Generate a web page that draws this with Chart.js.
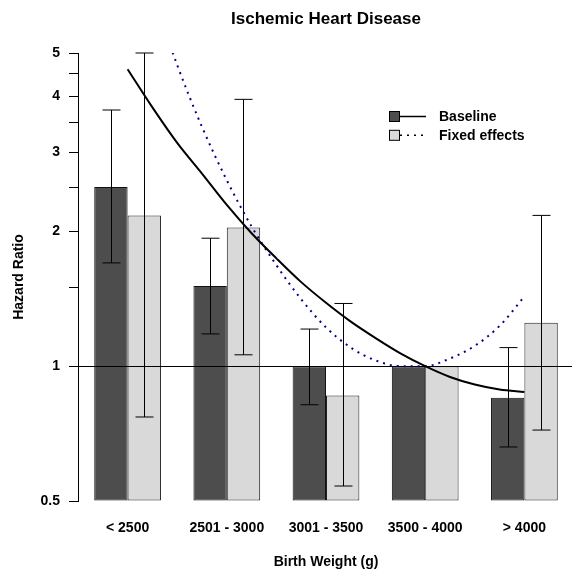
<!DOCTYPE html>
<html>
<head>
<meta charset="utf-8">
<script src="https://cdn.jsdelivr.net/npm/chart.js@4.4.1/dist/chart.umd.min.js"></script>
<style>
    html, body { margin: 0; padding: 0; background: #fff; overflow: hidden; }
    #wrap { width: 574px; height: 574px; }
</style>
</head>
<body>
<div id="wrap"><canvas id="hrChart"></canvas></div>
<script>
/* ---------- data ---------- */
const categories = ['< 2500', '2501 - 3000', '3001 - 3500', '3500 - 4000', '> 4000'];

const baselineHR = [2.51, 1.51, 1.00, 1.00, 0.85];
const baselineLo = [1.70, 1.18, 0.82, null, 0.66];
const baselineHi = [3.73, 1.93, 1.21, null, 1.10];

const fixedHR = [2.17, 2.04, 0.86, 1.00, 1.25];
const fixedLo = [0.77, 1.06, 0.54, null, 0.72];
const fixedHi = [5.00, 3.94, 1.38, null, 2.17];

// fitted curves, x in category units (0.5 = centre of first group)
const curveX = [0.5, 0.75, 1.0, 1.25, 1.5, 1.75, 2.0, 2.25, 2.5, 2.75, 3.0, 3.25, 3.5, 3.75, 4.0, 4.25, 4.5];
const baselineCurve = [4.60, 3.78, 3.15, 2.69, 2.29, 1.98, 1.74, 1.54, 1.385, 1.257, 1.155, 1.068, 1.00, 0.946, 0.910, 0.887, 0.876];
const fixedCurve = [10.3, 6.8, 4.70, 3.42, 2.60, 2.05, 1.68, 1.41, 1.22, 1.10, 1.03, 1.00, 1.00, 1.04, 1.11, 1.23, 1.43];

const yTicks = [0.5, 1, 1.5, 2, 2.5, 3, 3.5, 4, 4.5, 5];
const yLabels = [0.5, 1, 2, 3, 4, 5];
const refLine = 1;

const DARK = '#4d4d4d';
const LIGHT = '#d9d9d9';

Chart.defaults.font.family = "'Liberation Sans', Arial, sans-serif";
Chart.defaults.color = '#000';

// one shared linear x axis: category i sits at i + 0.5
const groupX = categories.map((_, i) => i + 0.5);
const toPoints = (xs, ys) => xs.map((x, i) => ({ x, y: ys[i] }));

/* ---------- reference line + error bars, drawn between bars and curves ---------- */
let underlayDone = false;
const underlay = {
    id: 'underlay',
    beforeDatasetsDraw() { underlayDone = false; },
    beforeDatasetDraw(chart, args) {
        if (underlayDone || args.meta.type !== 'line') return;
        underlayDone = true;
        const { ctx, chartArea } = chart;
        const y = chart.scales.y;
        ctx.save();
        ctx.strokeStyle = '#000';
        ctx.lineWidth = 1;

        const yr = Math.round(y.getPixelForValue(refLine)) + 0.5;
        ctx.beginPath();
        ctx.moveTo(chartArea.left, yr);
        ctx.lineTo(chartArea.right, yr);
        ctx.stroke();

        chart.data.datasets.forEach((ds, i) => {
            if (!ds.errLo) return;
            chart.getDatasetMeta(i).data.forEach((bar, j) => {
                if (ds.errLo[j] == null) return;
                const x = Math.round(bar.x) + 0.5;
                const lo = y.getPixelForValue(ds.errLo[j]);
                const hi = y.getPixelForValue(ds.errHi[j]);
                ctx.beginPath();
                ctx.moveTo(x, lo); ctx.lineTo(x, hi);
                ctx.moveTo(x - 9, lo); ctx.lineTo(x + 9, lo);
                ctx.moveTo(x - 9, hi); ctx.lineTo(x + 9, hi);
                ctx.stroke();
            });
        });
        ctx.restore();
    }
};

/* ---------- legend: filled box + line style ---------- */
const keyLegend = {
    id: 'keyLegend',
    afterDraw(chart) {
        const { ctx } = chart;
        const sets = chart.data.datasets;
        const items = [
            { label: sets[0].label, fill: sets[0].backgroundColor, dash: [] },
            { label: sets[1].label, fill: sets[1].backgroundColor, dash: [2, 5] }
        ];
        ctx.save();
        ctx.font = "bold 14px 'Liberation Sans', Arial, sans-serif";
        ctx.textBaseline = 'middle';
        items.forEach((it, k) => {
            const cy = 116.5 + k * 18.8;
            ctx.fillStyle = it.fill;
            ctx.fillRect(389.5, cy - 5, 10, 10);
            ctx.strokeStyle = '#000';
            ctx.lineWidth = 1;
            ctx.setLineDash([]);
            ctx.strokeRect(389.5, cy - 5, 10, 10);
            ctx.lineWidth = 1.5;
            ctx.setLineDash(it.dash);
            ctx.beginPath();
            ctx.moveTo(400, cy);
            ctx.lineTo(426, cy);
            ctx.stroke();
            ctx.fillStyle = '#000';
            ctx.fillText(it.label, 439, cy + 0.5);
        });
        ctx.restore();
    }
};

new Chart(document.getElementById('hrChart'), {
    type: 'bar',
    data: {
        datasets: [
            {
                label: 'Baseline',
                data: toPoints(groupX, baselineHR),
                errLo: baselineLo,
                errHi: baselineHi,
                backgroundColor: DARK,
                borderColor: '#111',
                borderWidth: 1,
                borderSkipped: false,
                base: 0.5,
                order: 3
            },
            {
                label: 'Fixed effects',
                data: toPoints(groupX, fixedHR),
                errLo: fixedLo,
                errHi: fixedHi,
                backgroundColor: LIGHT,
                borderColor: '#222',
                borderWidth: 1,
                borderSkipped: false,
                base: 0.5,
                order: 3
            },
            {
                type: 'line',
                label: 'Baseline fit',
                data: toPoints(curveX, baselineCurve),
                borderColor: '#000',
                borderWidth: 2,
                pointRadius: 0,
                cubicInterpolationMode: 'monotone',
                fill: false,
                order: 1
            },
            {
                type: 'line',
                label: 'Fixed effects fit',
                data: toPoints(curveX, fixedCurve),
                borderColor: '#00008b',
                borderWidth: 2,
                borderDash: [2, 5],
                pointRadius: 0,
                cubicInterpolationMode: 'monotone',
                fill: false,
                order: 2
            }
        ]
    },
    options: {
        responsive: true,
        maintainAspectRatio: false,
        animation: false,
        layout: { padding: 0 },
        datasets: {
            bar: { barPercentage: 1.0, categoryPercentage: 0.6727 }
        },
        plugins: {
            legend: { display: false },
            tooltip: { enabled: false },
            title: {
                display: true,
                text: 'Ischemic Heart Disease',
                fullSize: false,
                color: '#000',
                font: { size: 17, weight: 'bold' },
                padding: { top: 9.3, bottom: 23.3 }
            }
        },
        scales: {
            x: {
                type: 'linear',
                min: 0,
                max: categories.length,
                offset: false,
                afterBuildTicks: (s) => { s.ticks = groupX.map((v) => ({ value: v })); },
                afterFit: (s) => { s.height = 73; },
                grid: { display: false, drawTicks: false },
                border: { display: false },
                ticks: {
                    padding: 19,
                    autoSkip: false,
                    maxRotation: 0,
                    font: { size: 14, weight: 'bold' },
                    callback: (v, i) => categories[i]
                },
                title: {
                    display: true,
                    text: 'Birth Weight (g)',
                    font: { size: 14, weight: 'bold' },
                    padding: { top: 0, bottom: 3.6 }
                }
            },
            y: {
                type: 'logarithmic',
                min: 0.5,
                max: 5,
                afterBuildTicks: (s) => { s.ticks = yTicks.map((v) => ({ value: v })); },
                afterFit: (s) => { s.width = 78; },
                ticks: {
                    autoSkip: false,
                    padding: 9,
                    font: { size: 14, weight: 'bold' },
                    callback: (v) => (yLabels.includes(v) ? String(v) : '')
                },
                grid: { drawOnChartArea: false, drawTicks: true, tickLength: 9, color: '#000', lineWidth: 1 },
                border: { display: true, color: '#000', width: 1 },
                title: {
                    display: true,
                    text: 'Hazard Ratio',
                    font: { size: 14, weight: 'bold' },
                    padding: { top: 11, bottom: 0 }
                }
            }
        }
    },
    plugins: [underlay, keyLegend]
});
</script>
</body>
</html>
